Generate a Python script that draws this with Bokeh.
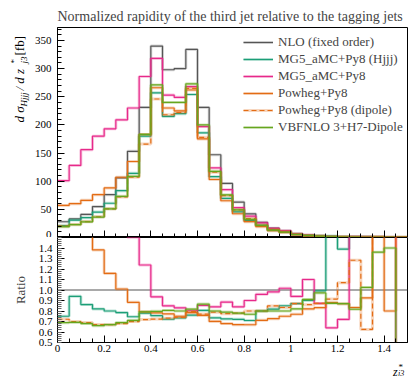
import math
from bokeh.plotting import figure
from bokeh.layouts import column, row
from bokeh.core.properties import value
from bokeh.models import (FixedTicker, Legend, LegendItem, PrintfTickFormatter,
                          CustomJSTickFormatter, Range1d)
from bokeh.embed import file_html
from bokeh.resources import INLINE

# ---------------- data ----------------
z_edges = [0.00, 0.05, 0.10, 0.15, 0.20, 0.25, 0.30, 0.35, 0.40, 0.45, 0.50,
           0.55, 0.60, 0.65, 0.70, 0.75, 0.80, 0.85, 0.90, 0.95, 1.00,
           1.05, 1.10, 1.15, 1.20, 1.25, 1.30, 1.35, 1.40, 1.45, 1.50]

nlo = [28, 33, 41, 55, 76, 106, 153, 231, 340, 298, 300, 334, 231, 147, 96,
       63, 42, 27, 16.5, 12, 6.5, 4.0, 2.5, 1.5, 1.0, 0.6, 0.4, 0.25, 0.15, 0.1]
mg5_hjjj = [21.0, 31.0, 35.3, 45.1, 60.8, 83.2, 114, 180, 257, 215, 220, 254, 186, 108, 69.6,
            45.4, 29.8, 21.6, 13.5, 10.2, 5.66, 3.6, 2.48, 2.55, 1.39, 1.8, 1.2, 0.75, 0.45, 0.3]
mg5 = [101, 128, 156, 180, 193, 209, 230, 286, 318, 253, 249, 268, 197, 123.5, 85,
       52.9, 37.8, 25.9, 16.2, 12.2, 6.1, 4.4, 2.18, 0.96, 0.72, 1.8, 1.2, 0.75, 0.45, 0.01]
powheg = [57, 60, 66, 76, 88, 107, 135, 183, 266, 230, 225, 262, 175, 103, 65.3,
          42.2, 28.1, 19.2, 12.0, 9.0, 5.0, 3.28, 2.08, 1.32, 0.87, 0.5, 0.37, 0.75, 0.12, 0.3]
powheg_dip = [20.2, 23.1, 28.3, 36.9, 50.9, 72.1, 107, 166, 246, 218, 222, 265, 178, 116, 74.4,
              49.1, 33.6, 21.6, 14.0, 10.0, 5.66, 3.44, 2.18, 1.37, 1.07, 0.77, 0.25, 0.75, 0.45, 0.3]
vbfnlo = [19.3, 22.8, 27.9, 36.3, 50.9, 73.1, 108.6, 183, 271, 240, 240, 273, 200, 117.6, 75.8,
          49.1, 32.3, 21.6, 13.2, 9.6, 5.33, 3.64, 2.43, 1.31, 0.87, 0.49, 0.41, 0.34, 0.21, 0.02]

labels = ["NLO (fixed order)", "MG5_aMC+Py8 (Hjjj)", "MG5_aMC+Py8",
          "Powheg+Py8", "Powheg+Py8 (dipole)", "VBFNLO 3+H7-Dipole"]
x_ticks = [0, 0.2, 0.4, 0.6, 0.8, 1.0, 1.2, 1.4]
y_ticks = [0, 50, 100, 150, 200, 250, 300, 350]
r_ticks = [0.5, 0.6, 0.7, 0.8, 0.9, 1.0, 1.1, 1.2, 1.3, 1.4]

series = [nlo, mg5_hjjj, mg5, powheg, powheg_dip, vbfnlo]
colors = ["#555555", "#1b9e77", "#e7298a", "#e36c14", "#e36c14", "#66a61e"]
dashes = ["solid", "solid", "solid", "solid", "5 3", "solid"]
band_alpha = [0.22, 0.28, 0.28, 0.28, 0.28, 0.28]

FONT = "Liberation Serif"
XMAX = 1.5
YMAX = 373.0
LEFT = 57          # left margin (strip with y label and tick labels)
TOP = 27
H1 = 237           # main panel canvas height (frame 27..237)
H2 = 120           # ratio panel canvas height (frame 237..342)
H3 = 376 - H1 - H2  # strip for the x label


def style_axes(fig):
    fig.outline_line_color = "black"
    fig.outline_line_width = 1
    fig.grid.visible = False
    fig.background_fill_color = "white"
    fig.border_fill_color = "white"
    for ax in (fig.xaxis[0], fig.yaxis[0]):
        ax.major_tick_out = 0
        ax.minor_tick_out = 0
        ax.major_tick_line_color = "black"
        ax.minor_tick_line_color = "black"
        ax.axis_line_color = "black"
        ax.major_label_text_font = FONT
        ax.major_label_text_font_size = "11px"
        ax.major_label_text_color = "black"


def put(fig, x, y, txt, size, style="normal", angle=0.0, align="left", baseline="alphabetic"):
    fig.text(x=[x], y=[y], text=[txt], angle=angle, text_font=value(FONT),
             text_font_size=value(size), text_font_style=style, text_align=align,
             text_baseline=baseline, text_color="black")


# ---------------- main panel ----------------
p = figure(width=408 - LEFT, height=H1, x_range=(0, XMAX), y_range=(0, YMAX),
           output_backend="svg", toolbar_location=None,
           min_border_left=0, min_border_right=1, min_border_top=TOP,
           min_border_bottom=0)
style_axes(p)
p.title.text = "Normalized rapidity of the third jet relative to the tagging jets"
p.title.text_font = FONT
p.title.text_font_size = "14px"
p.title.text_font_style = "normal"
p.title.align = "left"
p.title.offset = 0
p.title.standoff = 7
blank = CustomJSTickFormatter(code="return ''")
p.xaxis.ticker = FixedTicker(ticks=x_ticks, minor_ticks=[i * 0.05 for i in range(31)])
p.xaxis.formatter = blank
p.xaxis.major_label_text_font_size = "1px"
p.xaxis.major_label_standoff = 0
p.xaxis.major_tick_in = 7
p.xaxis.minor_tick_in = 4
p.yaxis.ticker = FixedTicker(ticks=y_ticks, minor_ticks=list(range(0, 371, 10)))
p.yaxis.formatter = blank
p.yaxis.major_label_text_font_size = "1px"
p.yaxis.major_label_standoff = 0
p.yaxis.major_tick_in = 7
p.yaxis.minor_tick_in = 4

items = []
for s, c, d, ba, lab in zip(series, colors, dashes, band_alpha, labels):
    yy = list(s) + [s[-1]]
    band = p.step(z_edges, yy, mode="after", line_color=c, line_width=3.0, line_alpha=ba)
    ln = p.step(z_edges, yy, mode="after", line_color=c, line_width=1.2, line_dash=d)
    items.append(LegendItem(label=lab, renderers=[band, ln]))

leg = Legend(items=items, location=(186, 102), glyph_width=30, glyph_height=14,
             label_height=14, spacing=1, padding=0, margin=0, label_standoff=5,
             label_text_font=FONT, label_text_font_size="13px",
             border_line_color=None, background_fill_alpha=0)
p.add_layout(leg)

# ---------------- left strip: y tick labels + rotated y label ----------------
ylab = figure(width=LEFT, height=H1, x_range=Range1d(0, LEFT), y_range=p.y_range,
              x_axis_type=None, y_axis_type=None, output_backend="svg",
              toolbar_location=None, min_border_left=0, min_border_right=0,
              min_border_top=TOP, min_border_bottom=0)
ylab.outline_line_color = None
ylab.grid.visible = False
ylab.border_fill_color = "white"
ylab.text(x=[51] * (len(y_ticks) - 1), y=y_ticks[1:], text=[str(t) for t in y_ticks[1:]],
          text_font=value(FONT), text_font_size=value("11px"), text_align="right",
          text_baseline="middle", text_color="black")
ylab.text(x=[51], y=y_ticks[:1], text=[str(y_ticks[0])], text_font=value(FONT),
          text_font_size=value("11px"), text_align="right", text_baseline="bottom",
          text_color="black")


def yd(py):
    return (H1 - py) / (H1 - TOP) * YMAX


ang = math.pi / 2
yb = 122
put(ylab, 19, yd(yb), "d σ", "13px", "italic", ang)
yb -= 16
put(ylab, 23, yd(yb), "Hjjj", "9px", "italic", ang)
yb -= 16
put(ylab, 19, yd(yb), " / d z", "13px", "italic", ang)
yb -= 27
put(ylab, 13, yd(yb), "*", "9px", "normal", ang)
put(ylab, 23, yd(yb), "j3", "9px", "italic", ang)
yb -= 8
put(ylab, 19, yd(yb), " [fb]", "13px", "normal", ang)

# ---------------- ratio panel ----------------
r = figure(width=408, height=H2, x_range=p.x_range, y_range=(0.5, 1.5),
           output_backend="svg", toolbar_location=None,
           min_border_left=LEFT, min_border_right=1, min_border_top=0,
           min_border_bottom=H2 - 105)
style_axes(r)
r.xaxis.ticker = FixedTicker(ticks=x_ticks, minor_ticks=[i * 0.05 for i in range(31)])
r.xaxis.formatter = PrintfTickFormatter(format="%g")
r.xaxis.major_tick_in = 7
r.xaxis.minor_tick_in = 4
r.xaxis.major_label_standoff = 2
r.yaxis.ticker = FixedTicker(ticks=r_ticks, minor_ticks=[0.5 + 0.02 * i for i in range(51)])
r.yaxis.formatter = PrintfTickFormatter(format="%.1f")
r.yaxis.major_tick_in = 7
r.yaxis.minor_tick_in = 4
r.yaxis.minor_tick_line_color = "#666666"
r.yaxis.major_label_standoff = 5
r.yaxis.axis_label = "Ratio"
r.yaxis.axis_label_text_font = FONT
r.yaxis.axis_label_text_font_size = "13px"
r.yaxis.axis_label_text_font_style = "normal"
r.yaxis.axis_label_standoff = 8

for s, c, d, ba in zip(series, colors, dashes, band_alpha):
    ratio = [v / n for v, n in zip(s, nlo)]
    yy = ratio + [ratio[-1]]
    if c != colors[0]:
        r.step(z_edges, yy, mode="after", line_color=c, line_width=3.0, line_alpha=ba)
    r.step(z_edges, yy, mode="after", line_color=c, line_width=1.2, line_dash=d)

# ---------------- x label strip ----------------
xlab = figure(width=408, height=H3, x_range=Range1d(0, 408), y_range=Range1d(H3, 0),
              x_axis_type=None, y_axis_type=None, output_backend="svg",
              toolbar_location=None, min_border=0)
xlab.outline_line_color = None
xlab.grid.visible = False
xlab.border_fill_color = "white"
base = H1 + H2
put(xlab, 391, 371 - base, "z", "12px", "italic")
put(xlab, 397.5, 366.5 - base, "*", "9px")
put(xlab, 397, 373 - base, "j3", "8px", "italic")

layout = column(row(ylab, p, spacing=0), r, xlab, spacing=0)
open("out.html", "w").write(file_html(layout, INLINE))
